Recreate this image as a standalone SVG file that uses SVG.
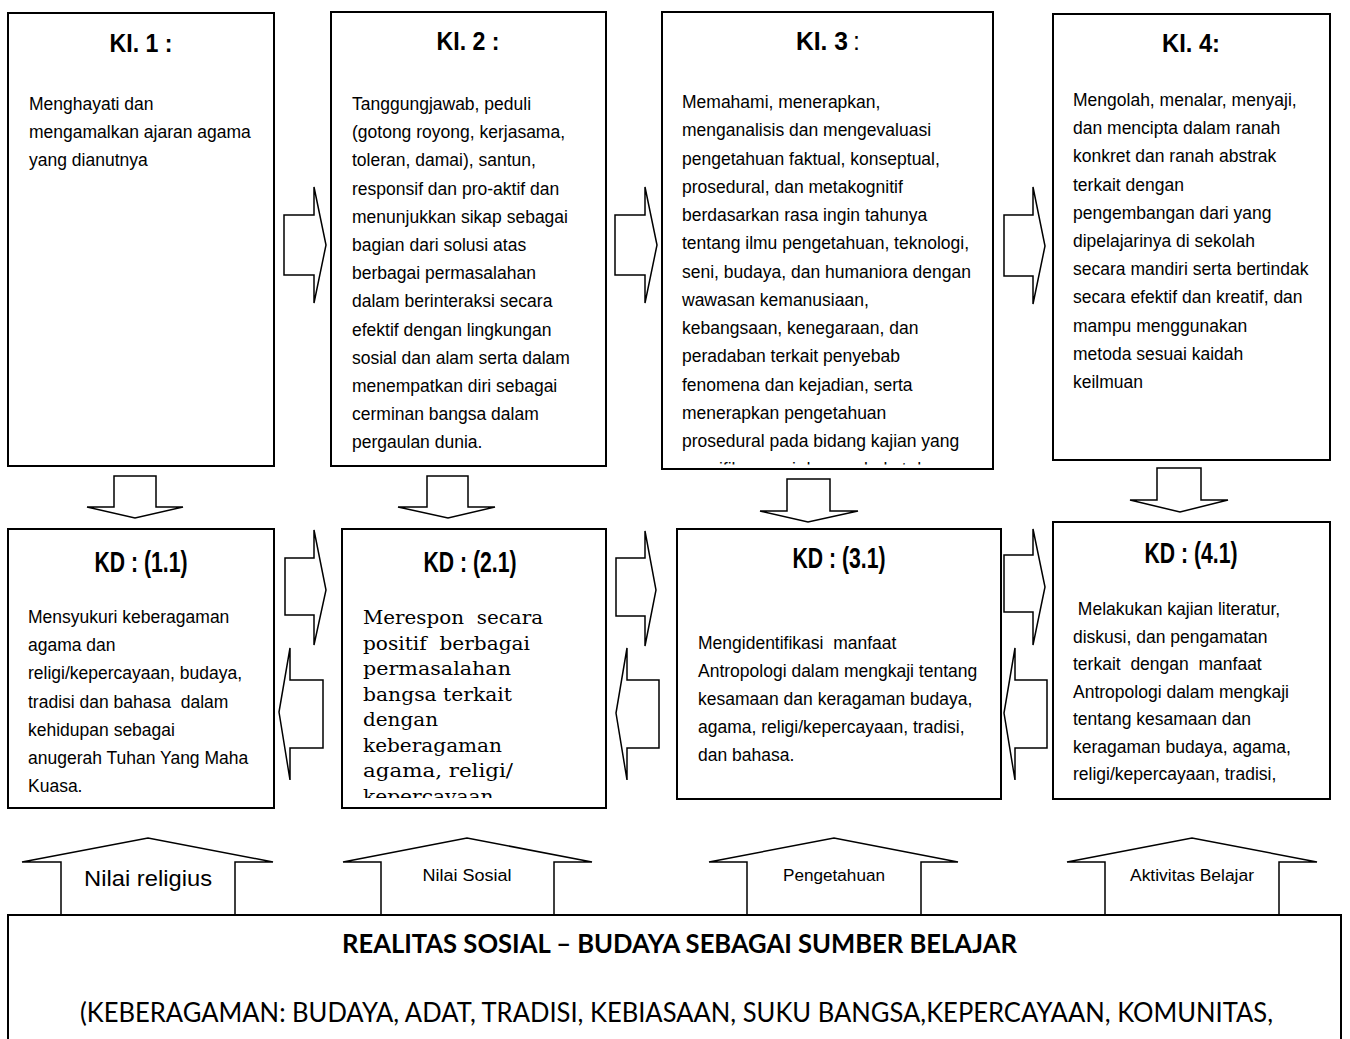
<svg xmlns="http://www.w3.org/2000/svg" width="1350" height="1039" viewBox="0 0 1350 1039">
<style>
.box{fill:#fff;stroke:#000;stroke-width:2}
.arr{fill:#fff;stroke:#000;stroke-width:1.5;stroke-linejoin:miter}
.ti{font-family:"Liberation Sans",Arial,sans-serif;font-weight:bold;text-anchor:middle;fill:#000}
.tx{font-family:"Liberation Sans",Arial,sans-serif;font-size:17.5px;fill:#000;white-space:pre}
.sf{font-family:"DejaVu Serif","Liberation Serif",serif;font-size:19px;fill:#000;white-space:pre}
.lb{font-family:"Liberation Sans",Arial,sans-serif;text-anchor:middle;fill:#000}
.bt{font-family:Lato,"Open Sans",sans-serif;fill:#000}
</style>
<defs>
<clipPath id="clipKI3"><rect x="662" y="12" width="331" height="452.5"/></clipPath>
<clipPath id="clipKD2"><rect x="342" y="529" width="264" height="269"/></clipPath>
</defs>
<rect width="1350" height="1039" fill="#fff"/>

<g id="connectors">
<path class="arr" d="M284,215 H314 V187 L326,245 L314,303 V275 H284 Z"/>
<path class="arr" d="M615,215 H645 V187 L657,245 L645,303 V275 H615 Z"/>
<path class="arr" d="M1004,215 H1033 V187 L1045,246 L1033,304 V276 H1004 Z"/>
<path class="arr" d="M114,476 H156 V507 H183 L135,518 L87,507 H114 Z"/>
<path class="arr" d="M427,476 H468 V507 H495 L448,518 L398,507 H427 Z"/>
<path class="arr" d="M787,479 H830 V511 H858 L808,522 L760,511 H787 Z"/>
<path class="arr" d="M1157,468 H1201 V500 H1228 L1180,512 L1130,500 H1157 Z"/>
<path class="arr" d="M285,558 H314 V530 L326,590 L314,645 V615 H285 Z"/>
<path class="arr" d="M616,558 H645 V531 L656,590 L645,646 V616 H616 Z"/>
<path class="arr" d="M1004,555 H1033 V529 L1045,587 L1033,645 V612 H1004 Z"/>
<path class="arr" d="M323,680 V748 H290 V780 L279,712 L290,648 V680 Z"/>
<path class="arr" d="M659,680 V748 H627 V780 L616,713 L627,648 V680 Z"/>
<path class="arr" d="M1047,680 V748 H1015 V780 L1004,713 L1015,648 V680 Z"/>
<g id="up-religius">
<path class="arr" d="M61,916 V862 H22 L148,838 L273,862 H235 V916"/>
<text class="lb" x="148" y="886" font-size="22" textLength="128" lengthAdjust="spacingAndGlyphs">Nilai religius</text>
</g>
<g id="up-sosial">
<path class="arr" d="M381,916 V862 H343 L467,838 L592,862 H554 V916"/>
<text class="lb" x="467" y="881" font-size="16" textLength="89" lengthAdjust="spacingAndGlyphs">Nilai Sosial</text>
</g>
<g id="up-pengetahuan">
<path class="arr" d="M747,916 V862 H709 L834,838 L958,862 H921 V916"/>
<text class="lb" x="834" y="881" font-size="16" textLength="102" lengthAdjust="spacingAndGlyphs">Pengetahuan</text>
</g>
<g id="up-aktivitas">
<path class="arr" d="M1105,916 V862 H1067 L1192,838 L1317,862 H1279 V916"/>
<text class="lb" x="1192" y="881" font-size="16" textLength="124" lengthAdjust="spacingAndGlyphs">Aktivitas Belajar</text>
</g>
</g>

<g id="ki1">
<rect class="box" x="8" y="13" width="266" height="453"/>
<text class="ti" x="141" y="52" font-size="25" textLength="63" lengthAdjust="spacingAndGlyphs">KI. 1 :</text>
<text class="tx" x="29" y="110">Menghayati dan</text>
<text class="tx" x="29" y="138.2">mengamalkan ajaran agama</text>
<text class="tx" x="29" y="166.4">yang dianutnya</text>
</g>

<g id="ki2">
<rect class="box" x="331" y="12" width="275" height="454"/>
<text class="ti" x="468" y="50" font-size="25" textLength="63" lengthAdjust="spacingAndGlyphs">KI. 2 :</text>
<text class="tx" x="352" y="110">Tanggungjawab, peduli</text>
<text class="tx" x="352" y="138.2">(gotong royong, kerjasama,</text>
<text class="tx" x="352" y="166.4">toleran, damai), santun,</text>
<text class="tx" x="352" y="194.6">responsif dan pro-aktif dan</text>
<text class="tx" x="352" y="222.8">menunjukkan sikap sebagai</text>
<text class="tx" x="352" y="251">bagian dari solusi atas</text>
<text class="tx" x="352" y="279.2">berbagai permasalahan</text>
<text class="tx" x="352" y="307.4">dalam berinteraksi secara</text>
<text class="tx" x="352" y="335.6">efektif dengan lingkungan</text>
<text class="tx" x="352" y="363.8">sosial dan alam serta dalam</text>
<text class="tx" x="352" y="392">menempatkan diri sebagai</text>
<text class="tx" x="352" y="420.2">cerminan bangsa dalam</text>
<text class="tx" x="352" y="448.4">pergaulan dunia.</text>
</g>

<g id="ki3">
<rect class="box" x="662" y="12" width="331" height="457"/>
<text class="ti" x="796" y="50" font-size="25" textLength="52" lengthAdjust="spacingAndGlyphs" style="text-anchor:start">KI. 3</text>
<text class="ti" x="853" y="50" font-size="25" style="text-anchor:start;font-weight:normal">:</text>
<text class="tx" x="682" y="108">Memahami, menerapkan,</text>
<text class="tx" x="682" y="136.25">menganalisis dan mengevaluasi</text>
<text class="tx" x="682" y="164.5">pengetahuan faktual, konseptual,</text>
<text class="tx" x="682" y="192.75">prosedural, dan metakognitif</text>
<text class="tx" x="682" y="221">berdasarkan rasa ingin tahunya</text>
<text class="tx" x="682" y="249.25">tentang ilmu pengetahuan, teknologi,</text>
<text class="tx" x="682" y="277.5">seni, budaya, dan humaniora dengan</text>
<text class="tx" x="682" y="305.75">wawasan kemanusiaan,</text>
<text class="tx" x="682" y="334">kebangsaan, kenegaraan, dan</text>
<text class="tx" x="682" y="362.25">peradaban terkait penyebab</text>
<text class="tx" x="682" y="390.5">fenomena dan kejadian, serta</text>
<text class="tx" x="682" y="418.75">menerapkan pengetahuan</text>
<text class="tx" x="682" y="447">prosedural pada bidang kajian yang</text>
<text class="tx" x="682" y="475.25" clip-path="url(#clipKI3)">spesifik sesuai dengan bakat dan</text>
</g>

<g id="ki4">
<rect class="box" x="1053" y="14" width="277" height="446"/>
<text class="ti" x="1191" y="52" font-size="25" textLength="58" lengthAdjust="spacingAndGlyphs">KI. 4:</text>
<text class="tx" x="1073" y="106">Mengolah, menalar, menyaji,</text>
<text class="tx" x="1073" y="134.2">dan mencipta dalam ranah</text>
<text class="tx" x="1073" y="162.4">konkret dan ranah abstrak</text>
<text class="tx" x="1073" y="190.6">terkait dengan</text>
<text class="tx" x="1073" y="218.8">pengembangan dari yang</text>
<text class="tx" x="1073" y="247">dipelajarinya di sekolah</text>
<text class="tx" x="1073" y="275.2">secara mandiri serta bertindak</text>
<text class="tx" x="1073" y="303.4">secara efektif dan kreatif, dan</text>
<text class="tx" x="1073" y="331.6">mampu menggunakan</text>
<text class="tx" x="1073" y="359.8">metoda sesuai kaidah</text>
<text class="tx" x="1073" y="388">keilmuan</text>
</g>

<g id="kd1">
<rect class="box" x="8" y="529" width="266" height="279"/>
<text class="ti" x="141" y="572" font-size="29" textLength="93" lengthAdjust="spacingAndGlyphs">KD : (1.1)</text>
<text class="tx" x="28" y="623">Mensyukuri keberagaman</text>
<text class="tx" x="28" y="651.2">agama dan</text>
<text class="tx" x="28" y="679.4">religi/kepercayaan, budaya,</text>
<text class="tx" x="28" y="707.6" xml:space="preserve">tradisi dan bahasa  dalam</text>
<text class="tx" x="28" y="735.8">kehidupan sebagai</text>
<text class="tx" x="28" y="764">anugerah Tuhan Yang Maha</text>
<text class="tx" x="28" y="792.2">Kuasa.</text>
</g>

<g id="kd2">
<rect class="box" x="342" y="529" width="264" height="279"/>
<text class="ti" x="470" y="572" font-size="29" textLength="93" lengthAdjust="spacingAndGlyphs">KD : (2.1)</text>
<g clip-path="url(#clipKD2)">
<text class="sf" x="363" y="624" textLength="180" lengthAdjust="spacingAndGlyphs" xml:space="preserve">Merespon  secara</text>
<text class="sf" x="363" y="649.5" textLength="167" lengthAdjust="spacingAndGlyphs" xml:space="preserve">positif  berbagai</text>
<text class="sf" x="363" y="675" textLength="148" lengthAdjust="spacingAndGlyphs">permasalahan</text>
<text class="sf" x="363" y="700.5" textLength="149" lengthAdjust="spacingAndGlyphs">bangsa terkait</text>
<text class="sf" x="363" y="726" textLength="75" lengthAdjust="spacingAndGlyphs">dengan</text>
<text class="sf" x="363" y="751.5" textLength="139" lengthAdjust="spacingAndGlyphs">keberagaman</text>
<text class="sf" x="363" y="777" textLength="150" lengthAdjust="spacingAndGlyphs">agama, religi/</text>
<text class="sf" x="363" y="802.5" textLength="137" lengthAdjust="spacingAndGlyphs">kepercayaan,</text>
</g>
</g>

<g id="kd3">
<rect class="box" x="677" y="529" width="324" height="270"/>
<text class="ti" x="839" y="568" font-size="29" textLength="93" lengthAdjust="spacingAndGlyphs">KD : (3.1)</text>
<text class="tx" x="698" y="649" xml:space="preserve">Mengidentifikasi  manfaat</text>
<text class="tx" x="698" y="677">Antropologi dalam mengkaji tentang</text>
<text class="tx" x="698" y="705">kesamaan dan keragaman budaya,</text>
<text class="tx" x="698" y="733">agama, religi/kepercayaan, tradisi,</text>
<text class="tx" x="698" y="761">dan bahasa.</text>
</g>

<g id="kd4">
<rect class="box" x="1053" y="522" width="277" height="277"/>
<text class="ti" x="1191" y="563" font-size="29" textLength="93" lengthAdjust="spacingAndGlyphs">KD : (4.1)</text>
<text class="tx" x="1073" y="615" xml:space="preserve"> Melakukan kajian literatur,</text>
<text class="tx" x="1073" y="642.5">diskusi, dan pengamatan</text>
<text class="tx" x="1073" y="670" xml:space="preserve">terkait  dengan  manfaat</text>
<text class="tx" x="1073" y="697.5">Antropologi dalam mengkaji</text>
<text class="tx" x="1073" y="725">tentang kesamaan dan</text>
<text class="tx" x="1073" y="752.5">keragaman budaya, agama,</text>
<text class="tx" x="1073" y="780">religi/kepercayaan, tradisi,</text>
</g>

<g id="realitas">
<rect class="box" x="8" y="915" width="1333" height="140"/>
<text class="bt" x="342" y="953" font-size="26" font-weight="bold" textLength="675" lengthAdjust="spacingAndGlyphs">REALITAS SOSIAL – BUDAYA SEBAGAI SUMBER BELAJAR</text>
<text class="bt" x="80" y="1022" font-size="26" textLength="1193" lengthAdjust="spacingAndGlyphs">(KEBERAGAMAN: BUDAYA, ADAT, TRADISI, KEBIASAAN, SUKU BANGSA,KEPERCAYAAN, KOMUNITAS,</text>
</g>
</svg>
